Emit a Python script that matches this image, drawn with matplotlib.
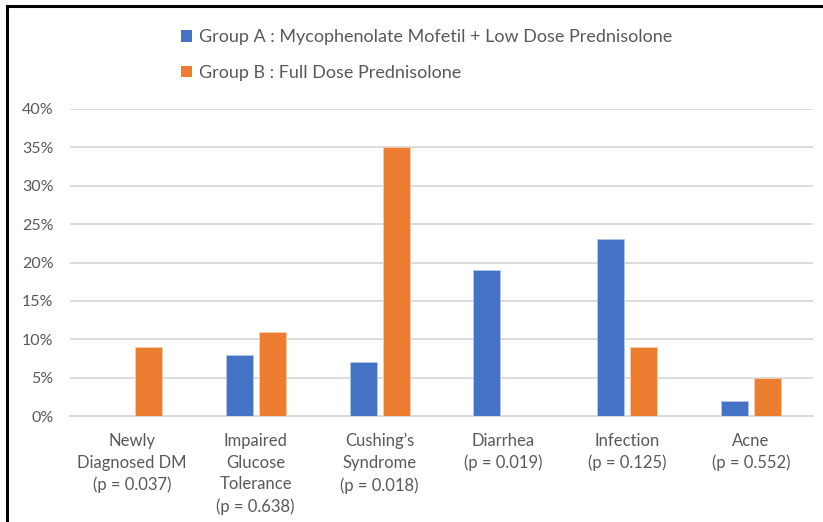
import numpy as np
import matplotlib.pyplot as plt
from matplotlib.lines import Line2D
from matplotlib.patches import Patch
from matplotlib.ticker import PercentFormatter

categories = ["Newly\nDiagnosed DM\n(p = 0.037)",
              "Impaired\nGlucose\nTolerance\n(p = 0.638)",
              "Cushing\u2019s\nSyndrome\n(p = 0.018)",
              "Diarrhea\n(p = 0.019)",
              "Infection\n(p = 0.125)",
              "Acne\n(p = 0.552)"]
group_a = [0, 8, 7, 19, 23, 2]
group_b = [9, 11, 35, 0, 9, 5]
labels = ["Group A : Mycophenolate Mofetil + Low Dose Prednisolone",
          "Group B : Full Dose Prednisolone"]

BLUE = '#4472C4'
ORANGE = '#ED7D31'
TXT = '#595959'
W, H = 823, 522

plt.rcParams['font.family'] = ['Lato', 'DejaVu Sans']

fig = plt.figure(figsize=(W / 100, H / 100), dpi=100)
ax = fig.add_axes([70 / W, 1 - 416 / H, 743 / W, (416 - 109) / H])

x = np.arange(len(categories))
bw = 0.218
off = 0.133
ax.bar(x - off, group_a, bw, color=BLUE, edgecolor='#B4C7E7', linewidth=0.6, zorder=3)
ax.bar(x + off, group_b, bw, color=ORANGE, edgecolor='#F8CBAD', linewidth=0.6, zorder=3)

ax.set_xlim(-0.5, len(categories) - 0.5)
ax.set_ylim(0, 40)
ax.set_yticks(np.arange(0, 41, 5))
ax.yaxis.set_major_formatter(PercentFormatter(decimals=0))
ax.grid(axis='y', color='#D9D9D9', linewidth=1.3, zorder=0)
for s in ['top', 'right', 'left']:
    ax.spines[s].set_visible(False)
ax.spines['bottom'].set_color('#D9D9D9')
ax.spines['bottom'].set_linewidth(1.3)
ax.set_xticks(x)
ax.set_xticklabels(categories, linespacing=1.45)
ax.tick_params(axis='both', length=0, colors=TXT, labelsize=12)
ax.tick_params(axis='y', pad=12, labelsize=11.5)
ax.tick_params(axis='x', pad=12)

handles = [Patch(facecolor=BLUE), Patch(facecolor=ORANGE)]
fig.legend(handles, labels, loc='upper left', bbox_to_anchor=(165 / W, 1 - 13 / H),
           frameon=False, fontsize=13, labelcolor=TXT, handlelength=0.6,
           handleheight=0.6, handletextpad=0.4, labelspacing=1.1)

# screenshot frame on top and left
fig.add_artist(Line2D([7 / W, 1], [1 - 6 / H, 1 - 6 / H], color='black', linewidth=2.2))
fig.add_artist(Line2D([7 / W, 7 / W], [0, 1 - 6 / H], color='black', linewidth=2.2))

fig.savefig('out.png', dpi=100, facecolor='white')
